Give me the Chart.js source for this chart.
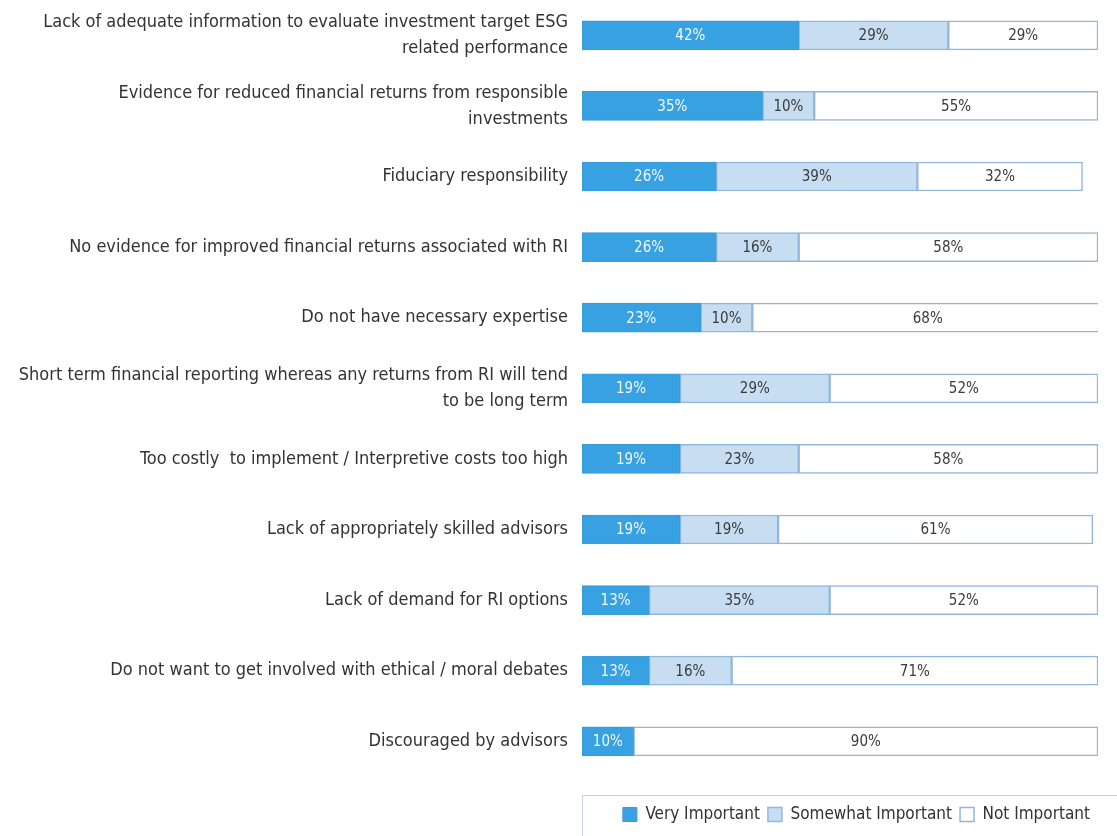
<!DOCTYPE html>
<html>
<head>
<meta charset="utf-8">
<script src="https://cdn.jsdelivr.net/npm/chart.js@4.4.1/dist/chart.umd.min.js"></script>
<style>
  html, body { margin: 0; padding: 0; background: #ffffff; overflow: hidden; }
  #wrap { width: 1117px; height: 836px; position: relative; }
</style>
</head>
<body>
<div id="wrap"><canvas id="chart"></canvas></div>
<script>
// Barriers to responsible investment, share of respondents by importance
const categories = [
  ['Lack of adequate information to evaluate investment target ESG', 'related performance'],
  ['Evidence for reduced financial returns from responsible', 'investments'],
  'Fiduciary responsibility',
  'No evidence for improved financial returns associated with RI',
  'Do not have necessary expertise',
  ['Short term financial reporting whereas any returns from RI will tend', 'to be long term'],
  'Too costly  to implement / Interpretive costs too high',
  'Lack of appropriately skilled advisors',
  'Lack of demand for RI options',
  'Do not want to get involved with ethical / moral debates',
  'Discouraged by advisors'
];
const veryImportant     = [42, 35, 26, 26, 23, 19, 19, 19, 13, 13, 10];
const somewhatImportant = [29, 10, 39, 16, 10, 29, 23, 19, 35, 16, 0];
const notImportant      = [29, 55, 32, 58, 68, 52, 58, 61, 52, 71, 90];
const seriesNames = ['Very Important', 'Somewhat Important', 'Not Important'];

const FONT = '"Liberation Sans Narrow", "DejaVu Sans Condensed", "Arial Narrow", Arial, sans-serif';
const EDGE = '#93b7db';

// Percentages written in the middle of each segment
const valueLabels = {
  id: 'valueLabels',
  afterDatasetsDraw(chart) {
    const ctx = chart.ctx;
    ctx.save();
    ctx.font = '15px ' + FONT;
    ctx.textAlign = 'center';
    ctx.textBaseline = 'middle';
    chart.data.datasets.forEach((ds, i) => {
      const meta = chart.getDatasetMeta(i);
      meta.data.forEach((bar, j) => {
        const v = ds.data[j];
        if (!v) return;
        ctx.fillStyle = i === 0 ? '#f4f9fd' : '#3b3b3b';
        ctx.fillText(v + '%', (bar.x + bar.base) / 2, bar.y + 1);
      });
    });
    ctx.restore();
  }
};

// Thin frame around the legend strip
const legendFrame = {
  id: 'legendFrame',
  afterDraw(chart) {
    const lg = chart.legend;
    const ctx = chart.ctx;
    ctx.save();
    ctx.strokeStyle = '#c6d5e4';
    ctx.lineWidth = 1;
    ctx.strokeRect(Math.round(chart.chartArea.left) + 0.5, Math.round(lg.top + 18) + 0.5, chart.width, 100);
    ctx.restore();
  }
};

new Chart(document.getElementById('chart'), {
  type: 'bar',
  data: {
    labels: categories,
    datasets: [
      { label: seriesNames[0], data: veryImportant, backgroundColor: '#38a1e2', borderColor: '#3a9ad6', borderWidth: 1 },
      { label: seriesNames[1], data: somewhatImportant, backgroundColor: '#c7ddf2', borderColor: EDGE, borderWidth: 1.5 },
      { label: seriesNames[2], data: notImportant, backgroundColor: '#ffffff', borderColor: EDGE, borderWidth: 1.5 }
    ]
  },
  options: {
    indexAxis: 'y',
    responsive: true,
    maintainAspectRatio: false,
    animation: false,
    datasets: { bar: { barThickness: 29, borderSkipped: false } },
    layout: { padding: { top: 0, right: 19, bottom: 3, left: 0 } },
    scales: {
      x: { stacked: true, min: 0, max: 100, display: false },
      y: {
        stacked: true,
        grid: { display: false, drawTicks: false },
        border: { display: false },
        ticks: {
          padding: 14,
          color: '#333333',
          font: { family: FONT, size: 18, lineHeight: 1.45 }
        },
        afterFit(scale) {
          scale.width = 582;
          scale.paddingTop = 0;
          scale.paddingBottom = 0;
        }
      }
    },
    plugins: {
      tooltip: { enabled: false },
      legend: {
        position: 'bottom',
        align: 'end',
        title: { display: true, text: '', padding: { top: 7, bottom: 0 } },
        labels: {
          boxWidth: 14,
          boxHeight: 14,
          padding: 8,
          color: '#333333',
          font: { family: FONT, size: 17 }
        }
      }
    }
  },
  plugins: [valueLabels, legendFrame]
});
</script>
</body>
</html>
